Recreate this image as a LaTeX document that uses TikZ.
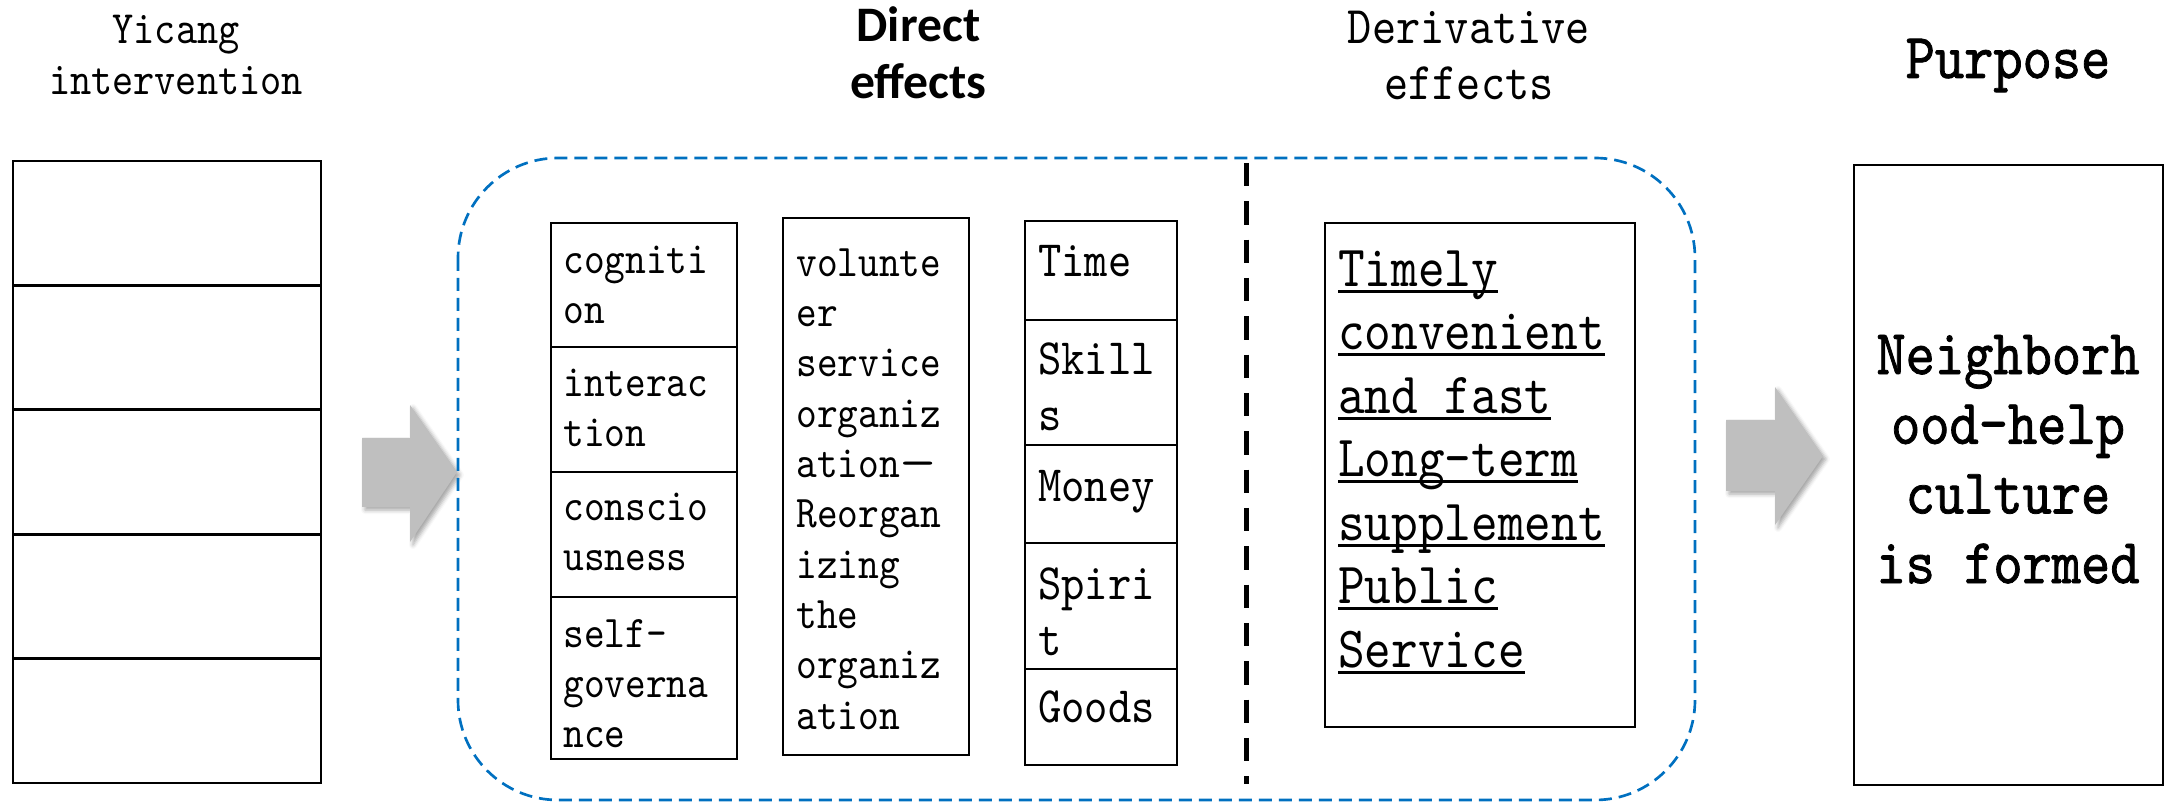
\documentclass[tikz,border=0pt]{standalone}
\usepackage{fontspec}
\setmonofont{lmmono10-regular.otf}[FakeStretch=0.87]
\newfontfamily\ttheavy{lmmono10-regular.otf}[FakeStretch=0.87, FakeBold=1.2]
\newfontfamily\headsans{Carlito}
\usetikzlibrary{positioning, shadows.blur}
\definecolor{dashblue}{RGB}{0,112,192}
\definecolor{arrowgray}{RGB}{191,191,191}
\newcommand\undr[1]{\setbox0\hbox{#1}\rlap{\rule[-0.11em]{\wd0}{0.05em}}\box0}
\tikzset{every picture/.style={line width=0.8pt}}

\begin{document}
\begin{tikzpicture}[x=0.3pt,y=0.3pt,yscale=-1,
    box/.style={draw=black, line width=0.8pt},
    headtext/.style={inner sep=0pt, anchor=north, align=center},
    celltext/.style={inner sep=0pt, anchor=north west, align=left},
    smalltt/.style={font=\fontsize{13.6}{15}\selectfont\ttfamily},
    bigarrow/.style={fill=arrowgray, blur shadow={shadow xshift=0.9pt, shadow yshift=-0.9pt, shadow blur radius=1.2pt, shadow opacity=35}}]

\useasboundingbox (0,0) rectangle (2165,803);

% headings
\node[headtext, font=\fontsize{13.9}{15.5}\selectfont\ttfamily] (hyicang) at (176,5.6) {\strut Yicang\\intervention};
\node[headtext, font=\fontsize{14.9}{17.1}\selectfont\headsans\bfseries] (hdirect) at (918.5,0.1) {\strut Direct\\effects};
\node[headtext, font=\fontsize{15.9}{17}\selectfont\ttfamily] (hderiv) at (1469,2.1) {\strut Derivative\\effects};
\node[headtext, font=\fontsize{19.2}{20.9}\selectfont\ttheavy] (hpurpose) at (2008,27.9) {\strut Purpose};

% intervention stack
\foreach \i in {0,...,4}
    \draw[box] (13,{161+124.4*\i}) rectangle (321,{285.4+124.4*\i});

% block arrows
\fill[bigarrow] (362,438) -- (410,438) -- (410,405) -- (457,472) -- (410,542) -- (410,507) -- (362,507) -- cycle;
\fill[bigarrow] (1726,420) -- (1775,420) -- (1775,387) -- (1823,456) -- (1775,525) -- (1775,491) -- (1726,491) -- cycle;

% effects frame
\draw[dashblue, line width=0.8pt, dash pattern=on 3.9pt off 2.1pt, rounded corners=30pt] (458,158) rectangle (1695,800);
\draw[line width=1.5pt, dash pattern=on 7pt off 4.5pt] (1246,163) -- (1246,784);

% direct effects, column 1
\foreach \a/\b in {223/347, 347/472, 472/597, 597/759}
    \draw[box] (551,\a) rectangle (737,\b);
\node[celltext, smalltt] (cog) at (562,237) {\strut cogniti\\on};
\node[celltext, smalltt] (inter) at (562,360) {\strut interac\\tion};
\node[celltext, smalltt] (consc) at (562,484) {\strut conscio\\usness};
\node[celltext, smalltt] (selfgov) at (562,611) {\strut self-\\governa\\nce};

% column 2
\draw[box] (783,218) rectangle (969,755);
\node[celltext, font=\fontsize{13.6}{15.1}\selectfont\ttfamily] (volorg) at (795,239.7)
    {\strut volunte\\er\\service\\organiz\\ation\scalebox{1.8}[1]{\textemdash}\\Reorgan\\izing\\the\\organiz\\ation};

% column 3
\foreach \a/\b in {221/320, 320/445, 445/543, 543/669, 669/765}
    \draw[box] (1025,\a) rectangle (1177,\b);
\tikzset{restext/.style={celltext, font=\fontsize{15.3}{16.8}\selectfont\ttfamily}}
\node[restext] (time) at (1037,235.8) {\strut Time};
\node[restext] (skills) at (1037,333.8) {\strut Skill\\s};
\node[restext] (money) at (1037,460.8) {\strut Money};
\node[restext] (spirit) at (1037,558.8) {\strut Spiri\\t};
\node[restext] (goods) at (1037,681.8) {\strut Goods};

% derivative effects
\draw[box] (1325,223) rectangle (1635,727);
\node[celltext, font=\fontsize{17.5}{19.05}\selectfont\ttfamily] (deriv) at (1337,240.5)
    {\strut\undr{Timely}\\\undr{convenient}\\\undr{and fast}\\\undr{Long-term}\\\undr{supplement}\\\undr{Public}\\\undr{Service}};

% purpose
\draw[box] (1854,165) rectangle (2163,785);
\node[headtext, font=\fontsize{19.2}{20.9}\selectfont\ttheavy] (culture) at (2008,324)
    {\strut Neighborh\\ood-help\\culture\\is formed};

\end{tikzpicture}
\end{document}
